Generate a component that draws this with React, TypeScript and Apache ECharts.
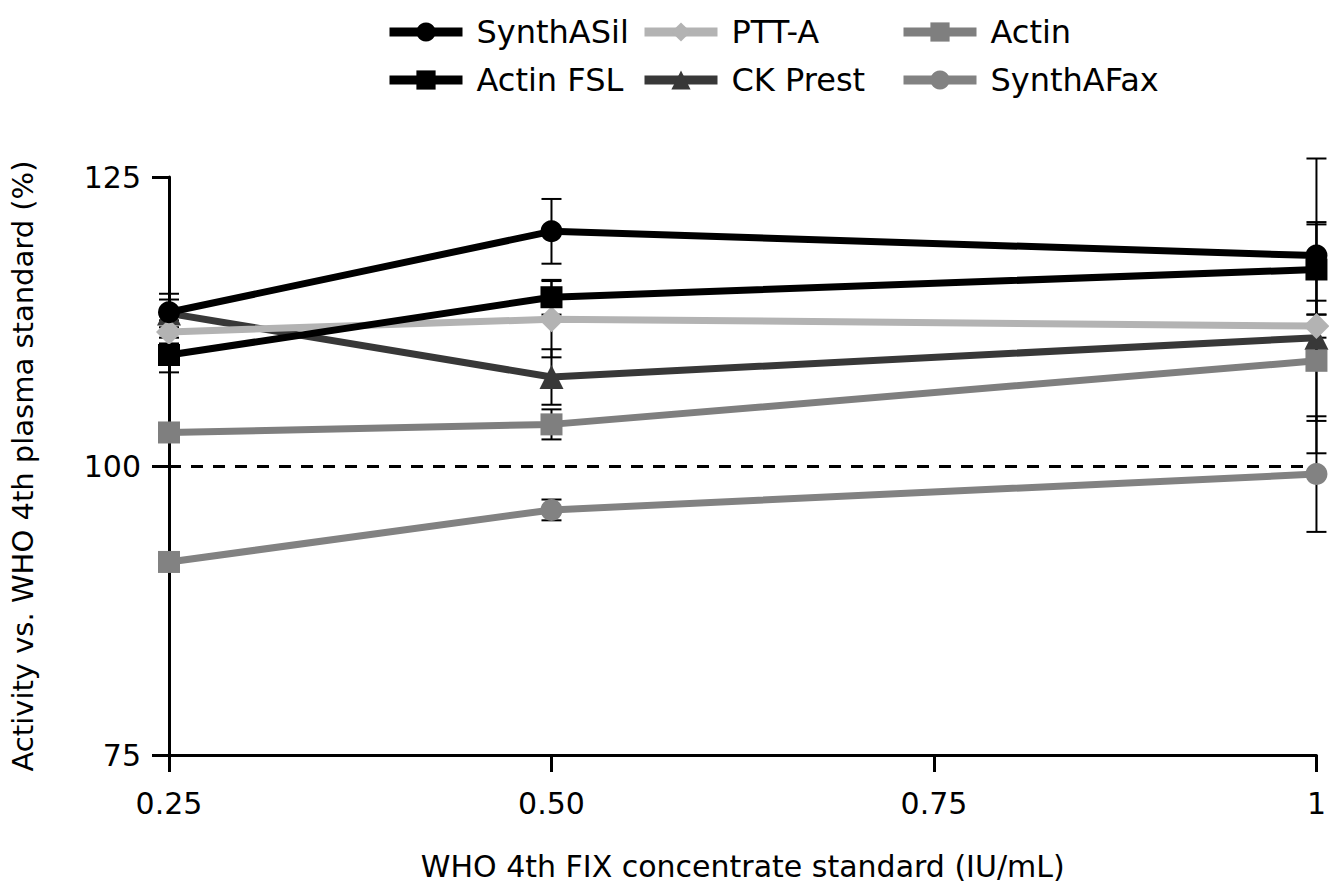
import React, { useEffect, useRef } from "react";
import * as echarts from "echarts";

const xValues = [0.25, 0.5, 1];
const xTicks = ["0.25", "0.50", "0.75", "1"];

const synthASil = [113.3, 120.3, 118.2];
const synthASilErr = [1.6, 2.8, 8.4];
const actinFSL = [109.6, 114.6, 117.0];
const actinFSLErr = [1.5, 1.5, 3.9];
const pttA = [111.6, 112.7, 112.1];
const pttAErr = [1.0, 3.3, 1.0];
const ckPrest = [113.2, 107.7, 111.1];
const ckPrestErr = [1.2, 2.4, 10.0];
const actin = [102.9, 103.6, 109.1];
const actinErr = [0.8, 1.3, 5.2];
const synthAFax = [91.7, 96.2, 99.3];
const synthAFaxErr = [0.5, 0.9, 5.0];

const FONT = "'DejaVu Sans', sans-serif";

export default function App() {
  const ref = useRef<HTMLDivElement>(null);
  useEffect(() => {
    const chart = echarts.init(ref.current!, null, { renderer: "svg" });

    const defs = [
      { name: "SynthAFax", vals: synthAFax, err: synthAFaxErr, color: "#828282", symbol: "circle", firstSymbol: "rect" },
      { name: "Actin", vals: actin, err: actinErr, color: "#7f7f7f", symbol: "rect" },
      { name: "CK Prest", vals: ckPrest, err: ckPrestErr, color: "#383838", symbol: "triangle" },
      { name: "PTT-A", vals: pttA, err: pttAErr, color: "#b3b3b3", symbol: "diamond" },
      { name: "Actin FSL", vals: actinFSL, err: actinFSLErr, color: "#000000", symbol: "rect" },
      { name: "SynthASil", vals: synthASil, err: synthASilErr, color: "#000000", symbol: "circle" },
    ];

    const errData: number[][] = [];
    defs.forEach((d) => {
      d.vals.forEach((v, i) => {
        errData.push([xValues[i], v, v - d.err[i], v + d.err[i]]);
      });
    });

    const lineSeries = defs.map((d, k) => ({
      name: d.name,
      type: "line",
      z: 10 + k,
      symbol: d.symbol,
      symbolSize: d.symbol === "diamond" ? 26 : d.symbol === "triangle" ? 24 : 22,
      clip: false,
      color: d.color,
      lineStyle: { width: 7, color: d.color },
      itemStyle: { color: d.color },
      data: d.vals.map((v, i) => {
        const item: any = { value: [xValues[i], v] };
        if (i === 0 && (d as any).firstSymbol) {
          item.symbol = (d as any).firstSymbol;
        }
        return item;
      }),
      markLine: k === 0 ? {
        silent: true,
        symbol: "none",
        label: { show: false },
        lineStyle: { type: [12, 10], width: 3, color: "#000" },
        data: [{ yAxis: 100 }],
      } : undefined,
    }));

    const errSeries = {
      type: "custom",
      z: 5,
      clip: false,
      data: errData,
      renderItem: (params: any, api: any) => {
        const x = api.value(0);
        const lo = api.coord([x, api.value(2)]);
        const hi = api.coord([x, api.value(3)]);
        const w = 10;
        const style = { stroke: "#000", lineWidth: 2 };
        return {
          type: "group",
          children: [
            { type: "line", shape: { x1: lo[0], y1: lo[1], x2: hi[0], y2: hi[1] }, style },
            { type: "line", shape: { x1: lo[0] - w, y1: lo[1], x2: lo[0] + w, y2: lo[1] }, style },
            { type: "line", shape: { x1: hi[0] - w, y1: hi[1], x2: hi[0] + w, y2: hi[1] }, style },
          ],
        };
      },
    };

    const legendCommon = {
      orient: "vertical",
      top: 16,
      padding: 0,
      itemWidth: 73,
      itemHeight: 24,
      itemGap: 16,
      lineStyle: { width: 9 },
      textStyle: { fontFamily: FONT, fontSize: 32, lineHeight: 24, color: "#000", padding: [0, 0, 0, 9] },
    };

    chart.setOption({
      animation: false,
      backgroundColor: "#fff",
      legend: [
        { ...legendCommon, left: 385, data: ["SynthASil", "Actin FSL"] },
        { ...legendCommon, left: 640, data: ["PTT-A", "CK Prest"] },
        { ...legendCommon, left: 899, data: ["Actin", "SynthAFax"] },
      ],
      grid: { left: 167, right: 11, top: 177, bottom: 138, containLabel: false },
      xAxis: {
        type: "value",
        min: 0.25,
        max: 1,
        interval: 0.25,
        name: "WHO 4th FIX concentrate standard (IU/mL)",
        nameLocation: "middle",
        nameGap: 96,
        nameTextStyle: { fontFamily: FONT, fontSize: 30, color: "#000" },
        axisLine: { lineStyle: { color: "#000", width: 3 } },
        axisTick: { length: 17, lineStyle: { color: "#000", width: 3 } },
        splitLine: { show: false },
        axisLabel: {
          fontFamily: FONT,
          fontSize: 30,
          color: "#000",
          margin: 33,
          formatter: (v: number) => xTicks[Math.round((v - 0.25) / 0.25)] ?? "",
        },
      },
      yAxis: {
        type: "value",
        min: 75,
        max: 125,
        interval: 25,
        name: "Activity vs. WHO 4th plasma standard (%)",
        nameLocation: "middle",
        nameGap: 132,
        nameTextStyle: { fontFamily: FONT, fontSize: 29, color: "#000" },
        axisLine: { show: true, lineStyle: { color: "#000", width: 3 } },
        axisTick: { show: true, length: 17, lineStyle: { color: "#000", width: 3 } },
        splitLine: { show: false },
        axisLabel: { fontFamily: FONT, fontSize: 30, color: "#000", margin: 28 },
      },
      series: [errSeries, ...lineSeries],
    });
    return () => chart.dispose();
  }, []);
  return (
    <div
      ref={ref}
      style={{ position: "absolute", left: 0, top: 0, width: 1329, height: 893 }}
    />
  );
}
